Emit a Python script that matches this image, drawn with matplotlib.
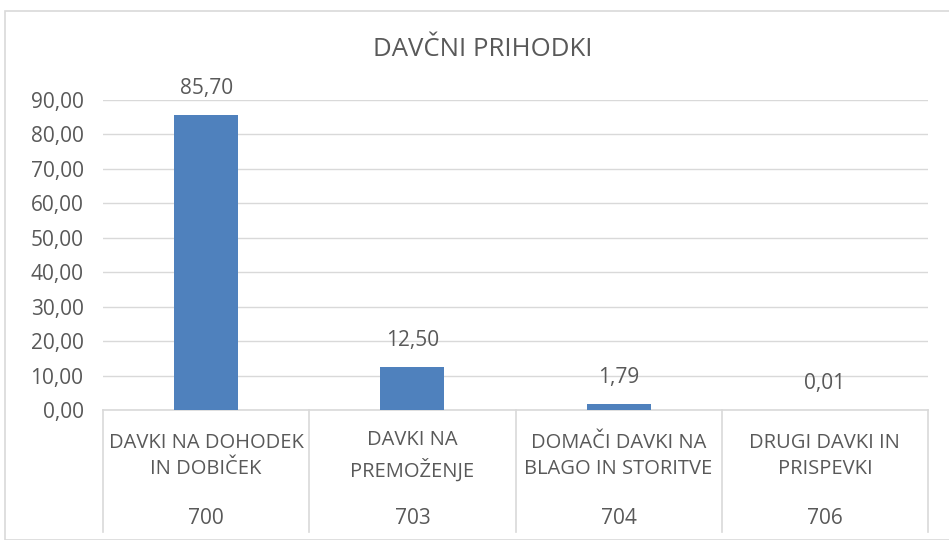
import matplotlib
matplotlib.use("Agg")
import matplotlib.pyplot as plt
from matplotlib.patches import Rectangle

categories = ["DAVKI NA DOHODEK\nIN DOBIČEK", "DAVKI NA\nPREMOŽENJE",
              "DOMAČI DAVKI NA\nBLAGO IN STORITVE", "DRUGI DAVKI IN\nPRISPEVKI"]
codes = ["700", "703", "704", "706"]
values = [85.70, 12.50, 1.79, 0.01]
yticks = [0, 10, 20, 30, 40, 50, 60, 70, 80, 90]
title = "DAVČNI PRIHODKI"

plt.rcParams['font.family'] = ['Open Sans', 'DejaVu Sans']
txt = '#595959'
grid = '#D9D9D9'
bar_color = '#4F81BD'

fig = plt.figure(figsize=(9.49, 5.4), dpi=100)
W, H = 949, 540
ax = fig.add_axes([103 / W, 1 - 410 / H, (928 - 103) / W, 310 / H])

x = list(range(len(values)))
ax.bar(x, values, width=0.31, color=bar_color, zorder=3)
ax.set_xlim(-0.5, len(values) - 0.5)
ax.set_ylim(0, 90)
ax.set_yticks(yticks)
ax.set_yticklabels([f"{v:.2f}".replace('.', ',') for v in yticks], color=txt, fontsize=15)
ax.tick_params(axis='y', length=0, pad=14)
ax.set_xticks([])
ax.yaxis.grid(True, color=grid, lw=1, zorder=0)
for s in ['left', 'right', 'top']:
    ax.spines[s].set_visible(False)
ax.spines['bottom'].set_color(grid)
ax.spines['bottom'].set_linewidth(1.2)

for i, v in enumerate(values):
    ax.annotate(f"{v:.2f}".replace('.', ','), (i, v), xytext=(0, 19), textcoords='offset points',
                ha='center', va='center', color=txt, fontsize=15)

tr = ax.get_xaxis_transform()
for b in [i - 0.5 for i in range(len(values) + 1)]:
    ax.plot([b, b], [0, -(532 - 410) / 310], transform=tr, color=grid, lw=1.2, clip_on=False)
for i, (c, code) in enumerate(zip(categories, codes)):
    ax.text(i, -(456 - 410) / 310, c, transform=tr, ha='center', va='center',
            color=txt, fontsize=14.5, linespacing=1.45)
    ax.text(i, -(518 - 410) / 310, code, transform=tr, ha='center', va='center',
            color=txt, fontsize=15)

fig.text(483 / W, 1 - 50 / H, title, ha='center', va='center', color=txt, fontsize=18.5)
fig.patches.append(Rectangle((5 / W, 0), 1.0, 1 - 11 / H, transform=fig.transFigure,
                             fill=False, edgecolor=grid, lw=1.2))

fig.savefig("out.png", dpi=100)
